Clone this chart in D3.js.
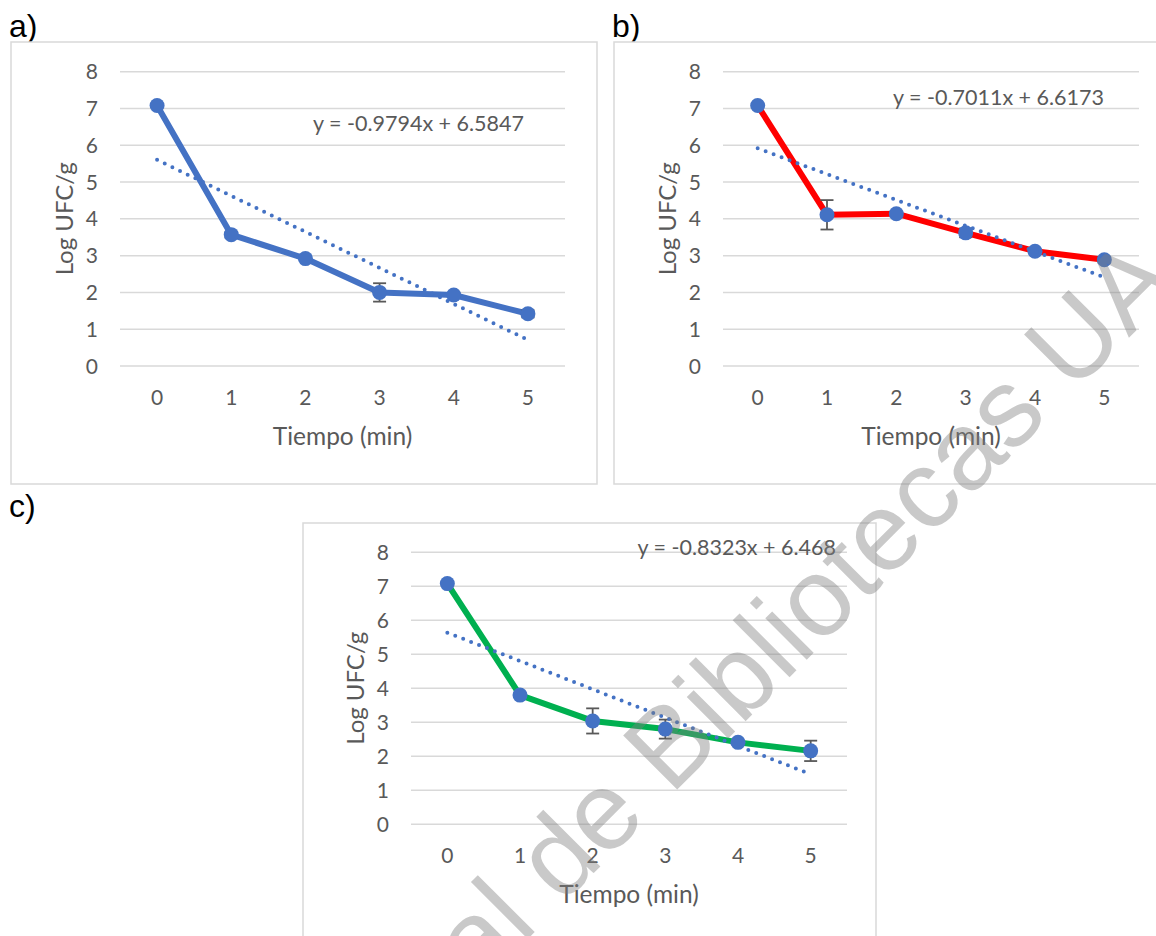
<!DOCTYPE html>
<html>
<head>
    <meta charset="utf-8">
    <script src="https://d3js.org/d3.v7.min.js"></script>
    <style>
        html, body {
            margin: 0;
            padding: 0;
            background: #fff;
        }
        svg {
            display: block;
        }
        .frame {
            fill: #fff;
            stroke: #d9d9d9;
            stroke-width: 1.5px;
        }
        .grid line {
            stroke: #d9d9d9;
            stroke-width: 1.5px;
        }
        .tick-label, .axis-title, .eq {
            font-family: Lato, "Open Sans", sans-serif;
            fill: #595959;
        }
        .panel-tag {
            font-family: "Liberation Sans", Arial, sans-serif;
            font-size: 32px;
            fill: #000;
        }
    </style>
</head>
<body>
<div id="chart"></div>
<script>
    // --- data ---
    var times = [0, 1, 2, 3, 4, 5];
    var yTicks = [0, 1, 2, 3, 4, 5, 6, 7, 8];

    var logA = [7.08, 3.57, 2.92, 2.0, 1.93, 1.42];
    var errA = [0, 0.08, 0.05, 0.25, 0.06, 0.1];
    var logB = [7.08, 4.11, 4.14, 3.62, 3.12, 2.89];
    var errB = [0, 0.4, 0.05, 0.12, 0.05, 0.08];
    var logC = [7.08, 3.8, 3.04, 2.8, 2.41, 2.16];
    var errC = [0, 0.05, 0.37, 0.28, 0.05, 0.3];

    // linear trend (Excel style, x = category number 1..6)
    var slopes = [-0.9794, -0.7011, -0.8323];
    var intercepts = [6.5847, 6.6173, 6.468];
    var equations = ["y = -0.9794x + 6.5847", "y = -0.7011x + 6.6173", "y = -0.8323x + 6.468"];
    var tags = ["a)", "b)", "c)"];

    var width = 1156,
        height = 936;

    var svg = d3.select("#chart").append("svg")
        .attr("width", width)
        .attr("height", height);

    svg.append("rect").attr("width", width).attr("height", height).attr("fill", "#fff");

    var panels = [
        {tag: tags[0], values: logA, errors: errA, color: "#4472c4", slope: slopes[0], icpt: intercepts[0], eq: equations[0],
            tagPos: [9, 37], frame: [11, 42, 586, 442], plot: [120, 71.7, 565, 366], eqPos: [524, 131]},
        {tag: tags[1], values: logB, errors: errB, color: "#ff0000", slope: slopes[1], icpt: intercepts[1], eq: equations[1],
            tagPos: [612, 37], frame: [614, 42, 586, 442], plot: [723, 71.7, 1139, 366], eqPos: [1104, 105]},
        {tag: tags[2], values: logC, errors: errC, color: "#00b050", slope: slopes[2], icpt: intercepts[2], eq: equations[2],
            tagPos: [9, 517], frame: [303, 523, 573, 442], plot: [411, 552.3, 847, 824.3], eqPos: [836, 555]}
    ];

    var drawPanel = function (p) {
        var g = svg.append("g");

        g.append("text")
            .attr("class", "panel-tag")
            .attr("x", p.tagPos[0])
            .attr("y", p.tagPos[1])
            .text(p.tag);

        g.append("rect")
            .attr("class", "frame")
            .attr("x", p.frame[0])
            .attr("y", p.frame[1])
            .attr("width", p.frame[2])
            .attr("height", p.frame[3]);

        var x = d3.scalePoint()
            .domain(times)
            .range([p.plot[0], p.plot[2]])
            .padding(0.5);

        var y = d3.scaleLinear()
            .domain([0, 8])
            .range([p.plot[3], p.plot[1]]);

        // gridlines
        g.append("g")
            .attr("class", "grid")
            .selectAll("line")
            .data(yTicks)
            .enter().append("line")
            .attr("x1", p.plot[0])
            .attr("x2", p.plot[2])
            .attr("y1", function (d) { return y(d); })
            .attr("y2", function (d) { return y(d); });

        // y tick labels
        g.selectAll(".ytick")
            .data(yTicks)
            .enter().append("text")
            .attr("class", "tick-label ytick")
            .attr("x", p.plot[0] - 22)
            .attr("y", function (d) { return y(d); })
            .attr("dy", "0.36em")
            .attr("text-anchor", "end")
            .style("font-size", "21px")
            .text(function (d) { return d; });

        // x tick labels
        g.selectAll(".xtick")
            .data(times)
            .enter().append("text")
            .attr("class", "tick-label xtick")
            .attr("x", function (d) { return x(d); })
            .attr("y", p.plot[3] + 31)
            .attr("dy", "0.36em")
            .attr("text-anchor", "middle")
            .style("font-size", "21px")
            .text(function (d) { return d; });

        // axis titles
        var cy = (p.plot[1] + p.plot[3]) / 2;
        g.append("text")
            .attr("class", "axis-title")
            .attr("transform", "translate(" + (p.plot[0] - 56) + "," + cy + ") rotate(-90)")
            .attr("dy", "0.36em")
            .attr("text-anchor", "middle")
            .style("font-size", "24px")
            .text("Log UFC/g");

        g.append("text")
            .attr("class", "axis-title")
            .attr("x", (p.plot[0] + p.plot[2]) / 2)
            .attr("y", p.plot[3] + 70)
            .attr("dy", "0.36em")
            .attr("text-anchor", "middle")
            .style("font-size", "24.5px")
            .text("Tiempo (min)");

        var pts = times.map(function (t, i) {
            return {t: t, v: p.values[i], e: p.errors[i]};
        });

        // series line
        var line = d3.line()
            .x(function (d) { return x(d.t); })
            .y(function (d) { return y(d.v); });

        g.append("path")
            .datum(pts)
            .attr("d", line)
            .attr("fill", "none")
            .attr("stroke", p.color)
            .attr("stroke-width", 6)
            .attr("stroke-linejoin", "round");

        // error bars
        var eb = g.append("g")
            .attr("stroke", "#595959")
            .attr("stroke-width", 1.8)
            .selectAll("g")
            .data(pts.filter(function (d) { return d.e > 0; }))
            .enter().append("g");

        eb.append("line")
            .attr("x1", function (d) { return x(d.t); })
            .attr("x2", function (d) { return x(d.t); })
            .attr("y1", function (d) { return y(d.v - d.e); })
            .attr("y2", function (d) { return y(d.v + d.e); });
        eb.append("line")
            .attr("x1", function (d) { return x(d.t) - 6.5; })
            .attr("x2", function (d) { return x(d.t) + 6.5; })
            .attr("y1", function (d) { return y(d.v + d.e); })
            .attr("y2", function (d) { return y(d.v + d.e); });
        eb.append("line")
            .attr("x1", function (d) { return x(d.t) - 6.5; })
            .attr("x2", function (d) { return x(d.t) + 6.5; })
            .attr("y1", function (d) { return y(d.v - d.e); })
            .attr("y2", function (d) { return y(d.v - d.e); });

        // markers
        g.selectAll(".marker")
            .data(pts)
            .enter().append("circle")
            .attr("class", "marker")
            .attr("cx", function (d) { return x(d.t); })
            .attr("cy", function (d) { return y(d.v); })
            .attr("r", 7.5)
            .attr("fill", "#4472c4");

        // trend line (dotted)
        var ends = [times[0], times[times.length - 1]].map(function (t) {
            var n = times.indexOf(t) + 1;
            return {t: t, v: p.slope * n + p.icpt};
        });
        g.append("path")
            .datum(ends)
            .attr("d", line)
            .attr("fill", "none")
            .attr("stroke", "#4472c4")
            .attr("stroke-width", 4)
            .attr("stroke-linecap", "round")
            .attr("stroke-dasharray", "0 8.5");

        // equation label
        g.append("text")
            .attr("class", "eq")
            .attr("x", p.eqPos[0])
            .attr("y", p.eqPos[1])
            .attr("text-anchor", "end")
            .style("font-size", "21.5px")
            .text(p.eq);
    };

    panels.forEach(drawPanel);

    // watermark of the source scan (only the part that shows in the picture)
    svg.append("text")
        .attr("transform", "translate(790,623) rotate(-45)")
        .attr("text-anchor", "middle")
        .attr("dominant-baseline", "central")
        .style("font-family", "'Liberation Sans', Arial, sans-serif")
        .style("font-size", "111px")
        .attr("fill", "#7f7f7f")
        .attr("fill-opacity", 0.42)
        .text("ral de Bibliotecas UA");
</script>
</body>
</html>
